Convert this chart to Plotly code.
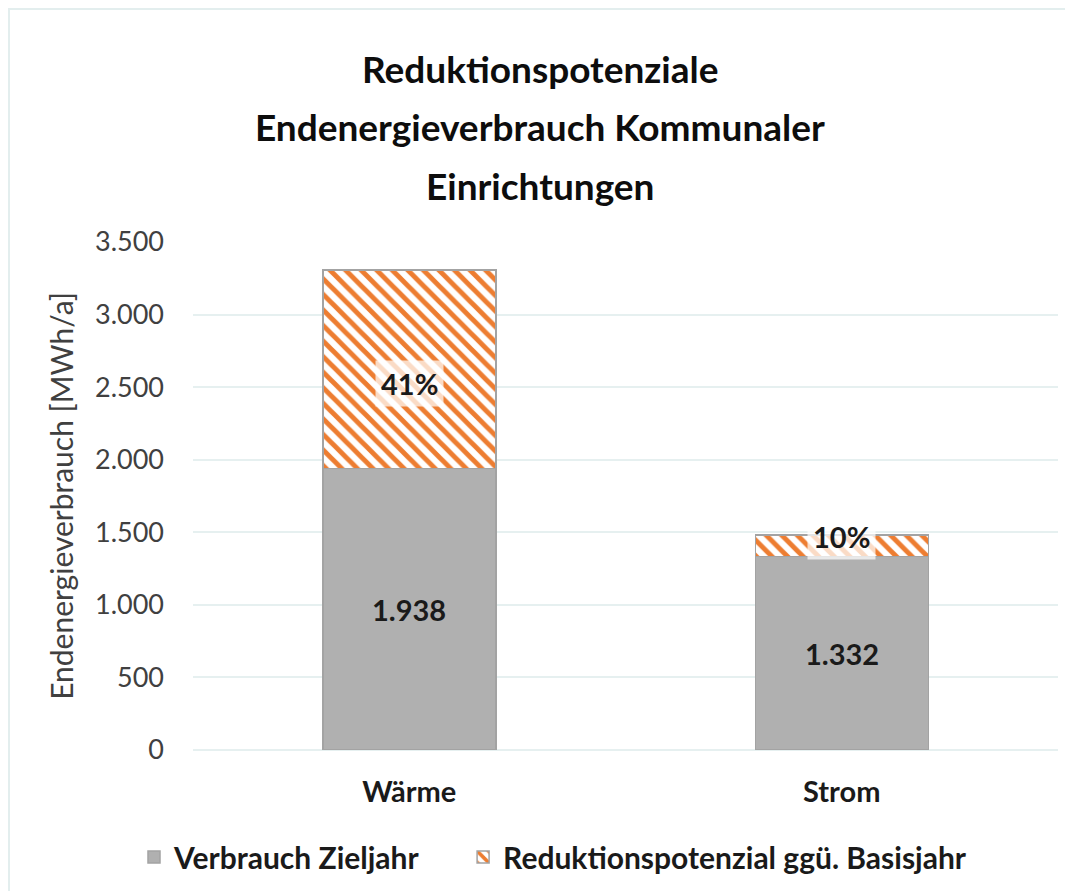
import plotly.graph_objects as go

categories = ["Wärme", "Strom"]
verbrauch_zieljahr = [1938, 1332]
reduktion = [1369, 148]
reduktion_pct = ["41%", "10%"]
y_ticks = [0, 500, 1000, 1500, 2000, 2500, 3000, 3500]

FONT = "Lato"
GRAY = "#B0B0B0"
ORANGE = "#ED7D31"

# page offset (body margin) compensation
OFF = 8
L, T = 193 - OFF, 242 - OFF
PW, PH = 865, 508
W, H = 1073, 891
pct_shift = [-14, 9]
NB = "\u00a0"


def de(v):
    return f"{v:,}".replace(",", ".")


fig = go.Figure()
fig.add_trace(go.Bar(
    x=categories, y=verbrauch_zieljahr, name="<b>Verbrauch Zieljahr</b>" + NB * 5,
    marker=dict(color=GRAY, line=dict(color="#A3A3A3", width=1.5)),
))
fig.add_trace(go.Bar(
    x=categories, y=reduktion, name="<b>Reduktionspotenzial ggü. Basisjahr</b>",
    marker=dict(color="white", line=dict(color="#A3A3A3", width=1.5),
                pattern=dict(shape="\\", fgcolor=ORANGE, bgcolor="white",
                             fgopacity=1, size=11, solidity=0.45)),
))

annotations = []
for i, c in enumerate(categories):
    annotations.append(dict(
        x=c, y=verbrauch_zieljahr[i] / 2, xref="x", yref="y",
        text=f"<b>{de(verbrauch_zieljahr[i])}</b>", showarrow=False,
        font=dict(family=FONT, size=29, color="#1a1a1a")))
    annotations.append(dict(
        x=c, y=verbrauch_zieljahr[i] + reduktion[i] / 2, xref="x", yref="y",
        yshift=pct_shift[i],
        text=f"<b>{reduktion_pct[i]}</b>", showarrow=False,
        bgcolor="rgba(255,255,255,0.72)", borderpad=5,
        font=dict(family=FONT, size=29, color="#1a1a1a")))

title_lines = ["Reduktionspotenziale", "Endenergieverbrauch Kommunaler", "Einrichtungen"]
title_y = [69, 127, 185]
for line, py in zip(title_lines, title_y):
    annotations.append(dict(
        x=(540 - 193) / PW, y=(750 - py) / PH, xref="paper", yref="paper",
        text=f"<b>{line}</b>", showarrow=False, xanchor="center", yanchor="middle",
        font=dict(family=FONT, size=37, color="#0d0d0d")))

fig.update_layout(
    width=W, height=H,
    margin=dict(l=L, r=W - L - PW, t=T, b=H - T - PH, autoexpand=False),
    paper_bgcolor="white", plot_bgcolor="white",
    barmode="stack", bargap=0.6,
    separators=",.",
    font=dict(family=FONT, size=24, color="#404040"),
    showlegend=True,
    legend=dict(orientation="h", x=(553 - 193) / PW, xanchor="center",
                y=(750 - 857) / PH, yanchor="middle",
                font=dict(family=FONT, size=30, color="#1a1a1a"),
                traceorder="normal"),
    annotations=annotations,
    shapes=[dict(type="rect", xref="paper", yref="paper",
                 x0=(9 - 193) / PW, x1=(1090 - 193) / PW,
                 y0=(750 - 905) / PH, y1=(750 - 9) / PH,
                 line=dict(color="#E3EEEE", width=2), layer="below")],
)
fig.update_xaxes(showgrid=False, showline=False, ticks="", ticklabelstandoff=22,
                 tickfont=dict(family=FONT, size=29, color="#1a1a1a"),
                 tickprefix="<b>", ticksuffix="</b>")
fig.update_yaxes(range=[0, 3500], tickvals=y_ticks, tickformat=",d",
                 showgrid=True, gridcolor="#E6F0F0", gridwidth=1.5,
                 zeroline=True, zerolinecolor="#E6F0F0", zerolinewidth=1.5,
                 showline=False, ticks="", ticklabelstandoff=28,
                 tickfont=dict(family=FONT, size=27, color="#404040"),
                 title=dict(text="Endenergieverbrauch [MWh/a]", standoff=12,
                            font=dict(family=FONT, size=30, color="#404040")))

fig.write_html("out.html")
